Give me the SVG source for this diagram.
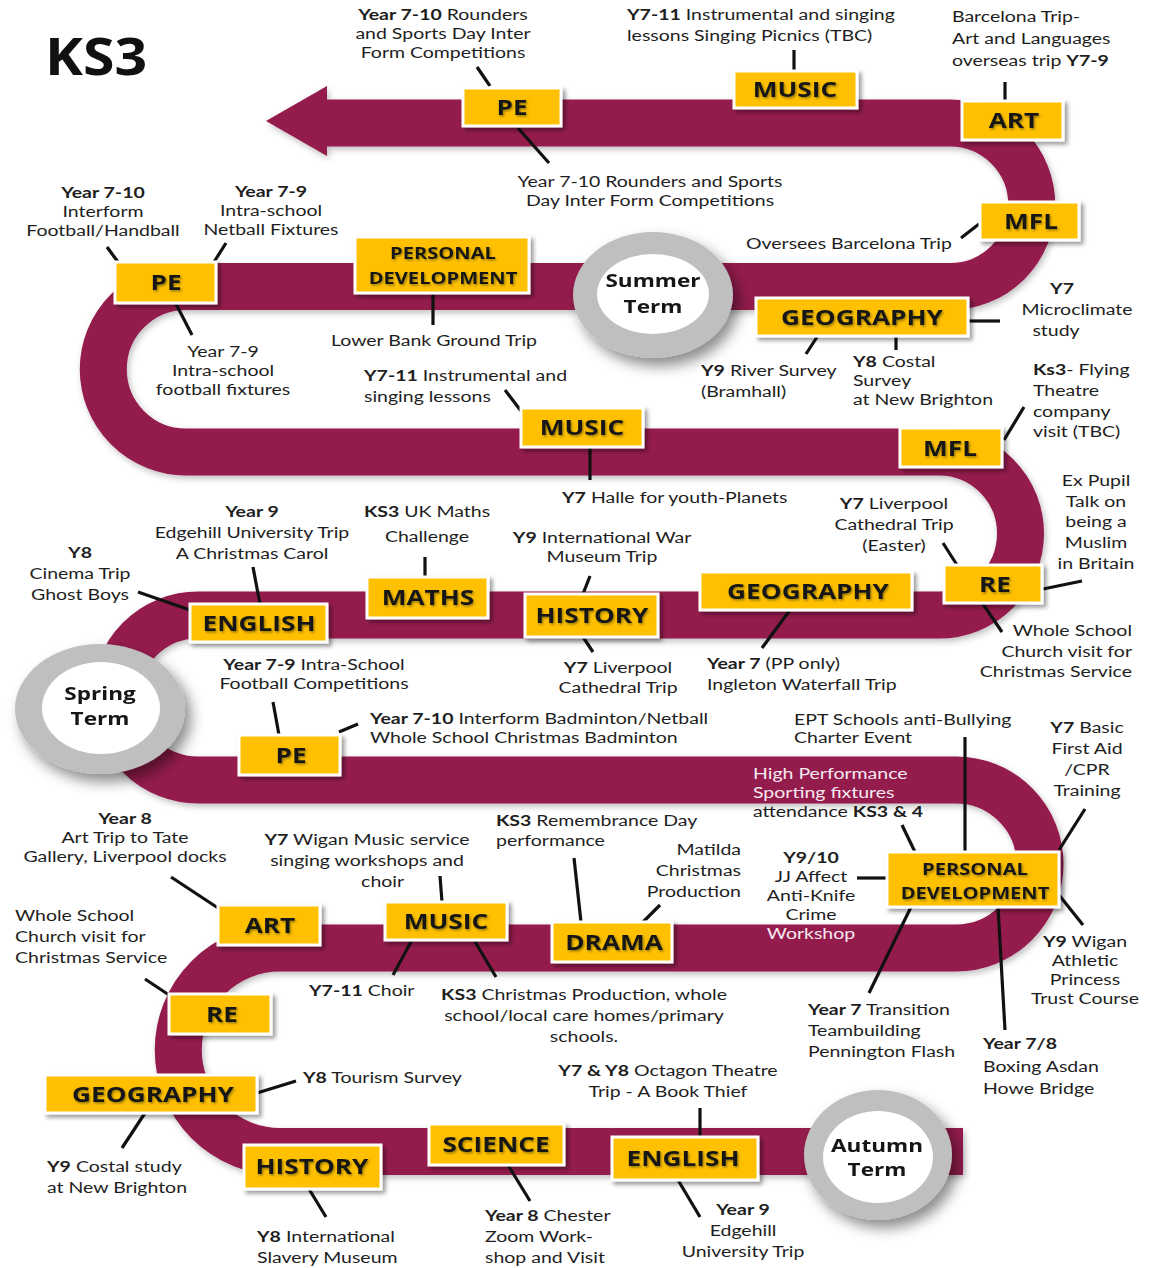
<svg xmlns="http://www.w3.org/2000/svg" width="1160" height="1268" viewBox="0 0 1160 1268">
<defs>
<style>
.t{font-family:Lato,"Open Sans","Liberation Sans",sans-serif;font-size:15px;fill:#1e1e1e}
.b{font-weight:700}
.w{fill:#f6e9f0}
.m{text-anchor:middle}
.e{text-anchor:end}
.lb{font-family:"Open Sans","Liberation Sans",sans-serif;font-weight:700;font-size:21.5px;fill:#141414;text-anchor:middle}
.lbs{font-size:16.5px}
.box{fill:#FFC000;stroke:#ffffff;stroke-width:3}
.cn line{stroke:#111;stroke-width:3.2;stroke-linecap:butt}
.ring{fill:#bfbfbf}
.core{fill:#ffffff}
.ct{font-family:"Open Sans","Liberation Sans",sans-serif;font-weight:700;font-size:18.5px;fill:#151515;text-anchor:middle}
</style>
<filter id="bs" x="-20%" y="-20%" width="150%" height="160%"><feDropShadow dx="3" dy="3" stdDeviation="2" flood-color="#000" flood-opacity="0.4"/></filter>
<filter id="cs" x="-30%" y="-30%" width="170%" height="170%"><feDropShadow dx="6" dy="8" stdDeviation="7" flood-color="#000" flood-opacity="0.45"/></filter>
<filter id="rs" x="-5%" y="-5%" width="110%" height="110%"><feDropShadow dx="2" dy="3" stdDeviation="3" flood-color="#000" flood-opacity="0.25"/></filter>
<filter id="ts" x="-10%" y="-20%" width="120%" height="150%"><feDropShadow dx="1" dy="1.5" stdDeviation="0.8" flood-color="#6b5a00" flood-opacity="0.7"/></filter>
</defs>
<rect width="1160" height="1268" fill="#ffffff"/>

<text class="b" font-family="Open Sans, Liberation Sans, sans-serif" font-size="52" fill="#111" transform="translate(45 0) scale(1.1 1)" x="0" y="75">KS3</text>

<g id="road" filter="url(#rs)">
<path d="M 963 1151.5 L 280 1151.5 A 101.75 101.75 0 0 1 280 948 L 956 948 A 84 84 0 0 0 956 780 L 198 780 A 82.5 82.5 0 0 1 198 615 L 939 615 A 81.5 81.5 0 0 0 939 452 L 186 452 A 82.75 82.75 0 0 1 186 286.5 L 950 286.5 A 81.75 81.75 0 0 0 950 123 L 325 123" fill="none" stroke="#941A4D" stroke-width="47"/>
<polygon points="266,121 327,86 327,156" fill="#941A4D"/>
</g>

<g id="connectors" class="cn">
<line x1="477" y1="67" x2="490" y2="86"/>
<line x1="518" y1="128" x2="549" y2="163"/>
<line x1="794" y1="50" x2="794" y2="70"/>
<line x1="1005" y1="82" x2="1005" y2="100"/>
<line x1="961" y1="238" x2="979" y2="224"/>
<line x1="107" y1="247" x2="118" y2="262"/>
<line x1="226" y1="243" x2="214" y2="262"/>
<line x1="176" y1="304" x2="192" y2="335"/>
<line x1="433" y1="293" x2="433" y2="325"/>
<line x1="968" y1="321" x2="1000" y2="321"/>
<line x1="817" y1="337" x2="806" y2="354"/>
<line x1="896" y1="337" x2="896" y2="350"/>
<line x1="505" y1="390" x2="521" y2="411"/>
<line x1="590" y1="447" x2="590" y2="480"/>
<line x1="1024" y1="407" x2="1004" y2="440"/>
<line x1="943" y1="543" x2="957" y2="565"/>
<line x1="1043" y1="589" x2="1082" y2="581"/>
<line x1="983" y1="604" x2="1002" y2="632"/>
<line x1="790" y1="610" x2="762" y2="648"/>
<line x1="590" y1="576" x2="583" y2="594"/>
<line x1="583" y1="637" x2="593" y2="652"/>
<line x1="425" y1="557" x2="425" y2="577"/>
<line x1="253" y1="567" x2="260" y2="604"/>
<line x1="138" y1="592" x2="190" y2="610"/>
<line x1="273" y1="702" x2="279" y2="735"/>
<line x1="339" y1="732" x2="358" y2="724"/>
<line x1="965" y1="737" x2="965" y2="852"/>
<line x1="902" y1="825" x2="915" y2="852"/>
<line x1="1085" y1="809" x2="1059" y2="850"/>
<line x1="857" y1="878" x2="887" y2="878"/>
<line x1="1059" y1="895" x2="1083" y2="925"/>
<line x1="911" y1="907" x2="869" y2="993"/>
<line x1="998" y1="907" x2="1005" y2="1030"/>
<line x1="574" y1="858" x2="581" y2="922"/>
<line x1="660" y1="905" x2="643" y2="922"/>
<line x1="440" y1="876" x2="442" y2="902"/>
<line x1="412" y1="940" x2="393" y2="975"/>
<line x1="474" y1="940" x2="496" y2="977"/>
<line x1="171" y1="877" x2="218" y2="908"/>
<line x1="145" y1="979" x2="169" y2="995"/>
<line x1="257" y1="1093" x2="296" y2="1081"/>
<line x1="145" y1="1113" x2="122" y2="1148"/>
<line x1="309" y1="1189" x2="326" y2="1217"/>
<line x1="508" y1="1165" x2="530" y2="1201"/>
<line x1="700" y1="1108" x2="700" y2="1137"/>
<line x1="678" y1="1180" x2="700" y2="1217"/>
</g>

<g id="summer-term" filter="url(#cs)">
<ellipse class="ring" cx="653" cy="295" rx="80" ry="63"/>
<ellipse class="core" cx="653" cy="294" rx="56" ry="40"/>
<text class="ct" transform="translate(653 0) scale(1.22 1)"><tspan x="0" y="287">Summer</tspan><tspan x="0" y="313">Term</tspan></text>
</g>
<g id="spring-term" filter="url(#cs)">
<ellipse class="ring" cx="100" cy="709" rx="85" ry="65"/>
<ellipse class="core" cx="101" cy="708" rx="59" ry="46"/>
<text class="ct" transform="translate(100 0) scale(1.22 1)"><tspan x="0" y="700">Spring</tspan><tspan x="0" y="725">Term</tspan></text>
</g>
<g id="autumn-term" filter="url(#cs)">
<ellipse class="ring" cx="878" cy="1155" rx="74" ry="65"/>
<ellipse class="core" cx="878" cy="1157" rx="55" ry="46"/>
<text class="ct" transform="translate(877 0) scale(1.22 1)"><tspan x="0" y="1152">Autumn</tspan><tspan x="0" y="1176">Term</tspan></text>
</g>

<g id="pe-1"><rect class="box" filter="url(#bs)" x="463" y="88" width="98" height="38"/><text class="lb" filter="url(#ts)" transform="translate(512 0) scale(1.22 1)" x="0" y="115">PE</text></g>
<g id="music-1"><rect class="box" filter="url(#bs)" x="734" y="71" width="123" height="37"/><text class="lb" filter="url(#ts)" transform="translate(795 0) scale(1.22 1)" x="0" y="97">MUSIC</text></g>
<g id="art-1"><rect class="box" filter="url(#bs)" x="962" y="101" width="101" height="39"/><text class="lb" filter="url(#ts)" transform="translate(1014 0) scale(1.22 1)" x="0" y="128">ART</text></g>
<g id="mfl-1"><rect class="box" filter="url(#bs)" x="980" y="202" width="99" height="38"/><text class="lb" filter="url(#ts)" transform="translate(1031 0) scale(1.22 1)" x="0" y="229">MFL</text></g>
<g id="geography-1"><rect class="box" filter="url(#bs)" x="756" y="298" width="212" height="38"/><text class="lb" filter="url(#ts)" transform="translate(862 0) scale(1.22 1)" x="0" y="325">GEOGRAPHY</text></g>
<g id="pd-1"><rect class="box" filter="url(#bs)" x="355" y="237" width="174" height="56"/><text class="lb lbs" filter="url(#ts)" transform="translate(443 0) scale(1.22 1)"><tspan x="0" y="259">PERSONAL</tspan><tspan x="0" y="284">DEVELOPMENT</tspan></text></g>
<g id="pe-2"><rect class="box" filter="url(#bs)" x="115" y="262" width="101" height="41"/><text class="lb" filter="url(#ts)" transform="translate(166 0) scale(1.22 1)" x="0" y="290">PE</text></g>
<g id="music-2"><rect class="box" filter="url(#bs)" x="521" y="408" width="122" height="39"/><text class="lb" filter="url(#ts)" transform="translate(582 0) scale(1.22 1)" x="0" y="435">MUSIC</text></g>
<g id="mfl-2"><rect class="box" filter="url(#bs)" x="900" y="428" width="102" height="39"/><text class="lb" filter="url(#ts)" transform="translate(950 0) scale(1.22 1)" x="0" y="456">MFL</text></g>
<g id="english-1"><rect class="box" filter="url(#bs)" x="190" y="604" width="137" height="38"/><text class="lb" filter="url(#ts)" transform="translate(259 0) scale(1.22 1)" x="0" y="631">ENGLISH</text></g>
<g id="maths"><rect class="box" filter="url(#bs)" x="367" y="577" width="121" height="41"/><text class="lb" filter="url(#ts)" transform="translate(428 0) scale(1.22 1)" x="0" y="605">MATHS</text></g>
<g id="history-1"><rect class="box" filter="url(#bs)" x="525" y="594" width="133" height="43"/><text class="lb" filter="url(#ts)" transform="translate(592 0) scale(1.22 1)" x="0" y="623">HISTORY</text></g>
<g id="geography-2"><rect class="box" filter="url(#bs)" x="700" y="572" width="212" height="38"/><text class="lb" filter="url(#ts)" transform="translate(808 0) scale(1.22 1)" x="0" y="599">GEOGRAPHY</text></g>
<g id="re-1"><rect class="box" filter="url(#bs)" x="944" y="565" width="98" height="38"/><text class="lb" filter="url(#ts)" transform="translate(995 0) scale(1.22 1)" x="0" y="592">RE</text></g>
<g id="pe-3"><rect class="box" filter="url(#bs)" x="239" y="735" width="101" height="40"/><text class="lb" filter="url(#ts)" transform="translate(291 0) scale(1.22 1)" x="0" y="763">PE</text></g>
<g id="pd-2"><rect class="box" filter="url(#bs)" x="887" y="852" width="172" height="55"/><text class="lb lbs" filter="url(#ts)" transform="translate(975 0) scale(1.22 1)"><tspan x="0" y="875">PERSONAL</tspan><tspan x="0" y="899">DEVELOPMENT</tspan></text></g>
<g id="art-2"><rect class="box" filter="url(#bs)" x="218" y="905" width="102" height="40"/><text class="lb" filter="url(#ts)" transform="translate(270 0) scale(1.22 1)" x="0" y="933">ART</text></g>
<g id="music-3"><rect class="box" filter="url(#bs)" x="385" y="902" width="122" height="38"/><text class="lb" filter="url(#ts)" transform="translate(446 0) scale(1.22 1)" x="0" y="929">MUSIC</text></g>
<g id="drama"><rect class="box" filter="url(#bs)" x="552" y="922" width="120" height="40"/><text class="lb" filter="url(#ts)" transform="translate(614 0) scale(1.22 1)" x="0" y="950">DRAMA</text></g>
<g id="re-2"><rect class="box" filter="url(#bs)" x="169" y="994" width="102" height="40"/><text class="lb" filter="url(#ts)" transform="translate(222 0) scale(1.22 1)" x="0" y="1022">RE</text></g>
<g id="geography-3"><rect class="box" filter="url(#bs)" x="45" y="1075" width="212" height="38"/><text class="lb" filter="url(#ts)" transform="translate(153 0) scale(1.22 1)" x="0" y="1102">GEOGRAPHY</text></g>
<g id="history-2"><rect class="box" filter="url(#bs)" x="244" y="1145" width="137" height="44"/><text class="lb" filter="url(#ts)" transform="translate(312 0) scale(1.22 1)" x="0" y="1174">HISTORY</text></g>
<g id="science"><rect class="box" filter="url(#bs)" x="429" y="1124" width="135" height="41"/><text class="lb" filter="url(#ts)" transform="translate(496 0) scale(1.22 1)" x="0" y="1152">SCIENCE</text></g>
<g id="english-2"><rect class="box" filter="url(#bs)" x="612" y="1137" width="146" height="43"/><text class="lb" filter="url(#ts)" transform="translate(683 0) scale(1.22 1)" x="0" y="1166">ENGLISH</text></g>

<g id="notes">
<text class="t m" transform="translate(443 0) scale(1.3 1)"><tspan x="0" y="20"><tspan class="b">Year 7-10</tspan> Rounders</tspan><tspan x="0" y="39">and Sports Day Inter</tspan><tspan x="0" y="58">Form Competitions</tspan></text>
<text class="t" transform="translate(627 0) scale(1.3 1)"><tspan x="0" y="20"><tspan class="b">Y7-11</tspan> Instrumental and singing</tspan><tspan x="0" y="41">lessons Singing Picnics (TBC)</tspan></text>
<text class="t" transform="translate(952 0) scale(1.3 1)"><tspan x="0" y="22">Barcelona Trip-</tspan><tspan x="0" y="44">Art and Languages</tspan><tspan x="0" y="66">overseas trip <tspan class="b">Y7-9</tspan></tspan></text>
<text class="t m" transform="translate(650 0) scale(1.3 1)"><tspan x="0" y="187">Year 7-10 Rounders and Sports</tspan><tspan x="0" y="206">Day Inter Form Competitions</tspan></text>
<text class="t" transform="translate(746 0) scale(1.3 1)" x="0" y="249">Oversees Barcelona Trip</text>
<text class="t m" transform="translate(103 0) scale(1.3 1)"><tspan x="0" y="198" class="b">Year 7-10</tspan><tspan x="0" y="217">Interform</tspan><tspan x="0" y="236">Football/Handball</tspan></text>
<text class="t m" transform="translate(271 0) scale(1.3 1)"><tspan x="0" y="197" class="b">Year 7-9</tspan><tspan x="0" y="216">Intra-school</tspan><tspan x="0" y="235">Netball Fixtures</tspan></text>
<text class="t m" transform="translate(223 0) scale(1.3 1)"><tspan x="0" y="357">Year 7-9</tspan><tspan x="0" y="376">Intra-school</tspan><tspan x="0" y="395">football fixtures</tspan></text>
<text class="t m" transform="translate(434 0) scale(1.3 1)" x="0" y="346">Lower Bank Ground Trip</text>
<text class="t" transform="translate(364 0) scale(1.3 1)"><tspan x="0" y="381"><tspan class="b">Y7-11</tspan> Instrumental and</tspan><tspan x="0" y="402">singing lessons</tspan></text>
<text class="t" transform="translate(562 0) scale(1.3 1)" x="0" y="503"><tspan class="b">Y7</tspan> Halle for youth-Planets</text>
<text class="t" transform="translate(701 0) scale(1.3 1)"><tspan x="0" y="376"><tspan class="b">Y9</tspan> River Survey</tspan><tspan x="0" y="397">(Bramhall)</tspan></text>
<text class="t" transform="translate(853 0) scale(1.3 1)"><tspan x="0" y="367"><tspan class="b">Y8</tspan> Costal</tspan><tspan x="0" y="386">Survey</tspan><tspan x="0" y="405">at New Brighton</tspan></text>
<text class="t m" transform="translate(1062 0) scale(1.3 1)" x="0" y="294"><tspan class="b">Y7</tspan></text>
<text class="t m" transform="translate(1077 0) scale(1.3 1)" x="0" y="315">Microclimate</text>
<text class="t m" transform="translate(1056 0) scale(1.3 1)" x="0" y="336">study</text>
<text class="t" transform="translate(1033 0) scale(1.3 1)"><tspan x="0" y="375"><tspan class="b">Ks3</tspan>- Flying</tspan><tspan x="0" y="396">Theatre</tspan><tspan x="0" y="417">company</tspan><tspan x="0" y="437">visit (TBC)</tspan></text>
<text class="t m" transform="translate(1096 0) scale(1.3 1)"><tspan x="0" y="486">Ex Pupil</tspan><tspan x="0" y="507">Talk on</tspan><tspan x="0" y="527">being a</tspan><tspan x="0" y="548">Muslim</tspan><tspan x="0" y="569">in Britain</tspan></text>
<text class="t m" transform="translate(894 0) scale(1.3 1)"><tspan x="0" y="509"><tspan class="b">Y7</tspan> Liverpool</tspan><tspan x="0" y="530">Cathedral Trip</tspan><tspan x="0" y="551">(Easter)</tspan></text>
<text class="t e" transform="translate(1132 0) scale(1.3 1)"><tspan x="0" y="636">Whole School</tspan><tspan x="0" y="657">Church visit for</tspan><tspan x="0" y="677">Christmas Service</tspan></text>
<text class="t m" transform="translate(80 0) scale(1.3 1)"><tspan x="0" y="558" class="b">Y8</tspan><tspan x="0" y="579">Cinema Trip</tspan><tspan x="0" y="600">Ghost Boys</tspan></text>
<text class="t m" transform="translate(252 0) scale(1.3 1)"><tspan x="0" y="517" class="b">Year 9</tspan><tspan x="0" y="538">Edgehill University Trip</tspan><tspan x="0" y="559">A Christmas Carol</tspan></text>
<text class="t m" transform="translate(427 0) scale(1.3 1)"><tspan x="0" y="517"><tspan class="b">KS3</tspan> UK Maths</tspan><tspan x="0" y="542">Challenge</tspan></text>
<text class="t m" transform="translate(602 0) scale(1.3 1)"><tspan x="0" y="543"><tspan class="b">Y9</tspan> International War</tspan><tspan x="0" y="562">Museum Trip</tspan></text>
<text class="t m" transform="translate(618 0) scale(1.3 1)"><tspan x="0" y="673"><tspan class="b">Y7</tspan> Liverpool</tspan><tspan x="0" y="693">Cathedral Trip</tspan></text>
<text class="t" transform="translate(707 0) scale(1.3 1)"><tspan x="0" y="669"><tspan class="b">Year 7</tspan> (PP only)</tspan><tspan x="0" y="690">Ingleton Waterfall Trip</tspan></text>
<text class="t m" transform="translate(314 0) scale(1.3 1)"><tspan x="0" y="670"><tspan class="b">Year 7-9</tspan> Intra-School</tspan><tspan x="0" y="689">Football Competitions</tspan></text>
<text class="t" transform="translate(370 0) scale(1.3 1)"><tspan x="0" y="724"><tspan class="b">Year 7-10</tspan> Interform Badminton/Netball</tspan><tspan x="0" y="743">Whole School Christmas Badminton</tspan></text>
<text class="t" transform="translate(794 0) scale(1.3 1)"><tspan x="0" y="725">EPT Schools anti-Bullying</tspan><tspan x="0" y="743">Charter Event</tspan></text>
<text class="t m" transform="translate(1087 0) scale(1.3 1)"><tspan x="0" y="733"><tspan class="b">Y7</tspan> Basic</tspan><tspan x="0" y="754">First Aid</tspan><tspan x="0" y="775">/CPR</tspan><tspan x="0" y="796">Training</tspan></text>
<text class="t" transform="translate(753 0) scale(1.3 1)"><tspan x="0" y="779" class="w">High Performance</tspan><tspan x="0" y="798" class="w">Sporting fixtures</tspan><tspan x="0" y="817">attendance <tspan class="b">KS3 &amp; 4</tspan></tspan></text>
<text class="t m" transform="translate(811 0) scale(1.3 1)"><tspan x="0" y="863" class="b">Y9/10</tspan><tspan x="0" y="882">JJ Affect</tspan><tspan x="0" y="901">Anti-Knife</tspan><tspan x="0" y="920">Crime</tspan><tspan x="0" y="939" class="w">Workshop</tspan></text>
<text class="t e" transform="translate(741 0) scale(1.3 1)"><tspan x="0" y="855">Matilda</tspan><tspan x="0" y="876">Christmas</tspan><tspan x="0" y="897">Production</tspan></text>
<text class="t" transform="translate(496 0) scale(1.3 1)"><tspan x="0" y="826"><tspan class="b">KS3</tspan> Remembrance Day</tspan><tspan x="0" y="846">performance</tspan></text>
<text class="t m" transform="translate(125 0) scale(1.3 1)"><tspan x="0" y="824" class="b">Year 8</tspan><tspan x="0" y="843">Art Trip to Tate</tspan><tspan x="0" y="862">Gallery, Liverpool docks</tspan></text>
<text class="t m" transform="translate(367 0) scale(1.3 1)"><tspan x="0" y="845"><tspan class="b">Y7</tspan> Wigan Music service</tspan><tspan x="0" y="866">singing workshops and</tspan><tspan x="12" y="887">choir</tspan></text>
<text class="t" transform="translate(15 0) scale(1.3 1)"><tspan x="0" y="921">Whole School</tspan><tspan x="0" y="942">Church visit for</tspan><tspan x="0" y="963">Christmas Service</tspan></text>
<text class="t" transform="translate(309 0) scale(1.3 1)" x="0" y="996"><tspan class="b">Y7-11</tspan> Choir</text>
<text class="t m" transform="translate(584 0) scale(1.3 1)"><tspan x="0" y="1000"><tspan class="b">KS3</tspan> Christmas Production, whole</tspan><tspan x="0" y="1021">school/local care homes/primary</tspan><tspan x="0" y="1042">schools.</tspan></text>
<text class="t" transform="translate(808 0) scale(1.3 1)"><tspan x="0" y="1015"><tspan class="b">Year 7</tspan> Transition</tspan><tspan x="0" y="1036">Teambuilding</tspan><tspan x="0" y="1057">Pennington Flash</tspan></text>
<text class="t" transform="translate(983 0) scale(1.3 1)"><tspan x="0" y="1049" class="b">Year 7/8</tspan><tspan x="0" y="1072">Boxing Asdan</tspan><tspan x="0" y="1094">Howe Bridge</tspan></text>
<text class="t m" transform="translate(1085 0) scale(1.3 1)"><tspan x="0" y="947"><tspan class="b">Y9</tspan> Wigan</tspan><tspan x="0" y="966">Athletic</tspan><tspan x="0" y="985">Princess</tspan><tspan x="0" y="1004">Trust Course</tspan></text>
<text class="t" transform="translate(303 0) scale(1.3 1)" x="0" y="1083"><tspan class="b">Y8</tspan> Tourism Survey</text>
<text class="t" transform="translate(47 0) scale(1.3 1)"><tspan x="0" y="1172"><tspan class="b">Y9</tspan> Costal study</tspan><tspan x="0" y="1193">at New Brighton</tspan></text>
<text class="t m" transform="translate(668 0) scale(1.3 1)"><tspan x="0" y="1076"><tspan class="b">Y7 &amp; Y8</tspan> Octagon Theatre</tspan><tspan x="0" y="1097">Trip - A Book Thief</tspan></text>
<text class="t" transform="translate(257 0) scale(1.3 1)"><tspan x="0" y="1242"><tspan class="b">Y8</tspan> International</tspan><tspan x="0" y="1263">Slavery Museum</tspan></text>
<text class="t" transform="translate(485 0) scale(1.3 1)"><tspan x="0" y="1221"><tspan class="b">Year 8</tspan> Chester</tspan><tspan x="0" y="1242">Zoom Work-</tspan><tspan x="0" y="1263">shop and Visit</tspan></text>
<text class="t m" transform="translate(743 0) scale(1.3 1)"><tspan x="0" y="1215" class="b">Year 9</tspan><tspan x="0" y="1236">Edgehill</tspan><tspan x="0" y="1257">University Trip</tspan></text>
</g>
</svg>
